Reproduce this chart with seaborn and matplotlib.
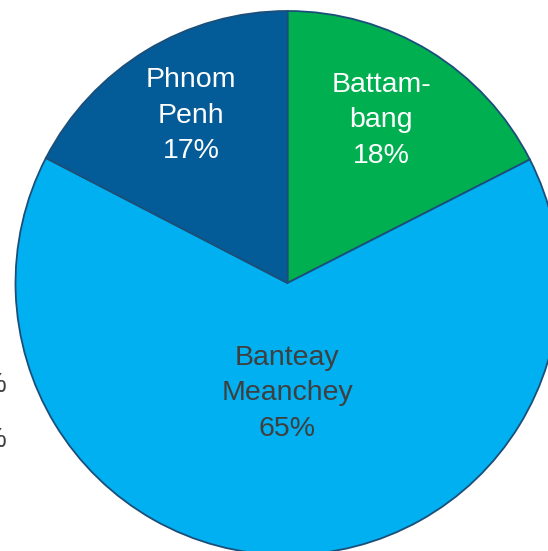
import matplotlib
matplotlib.use("Agg")
import matplotlib.pyplot as plt
import seaborn as sns
import numpy as np

sns.set_style("white")
plt.rcParams['font.family'] = ['Liberation Sans', 'DejaVu Sans']

regions = ["Battam-\nbang", "Banteay\nMeanchey", "Phnom\nPenh"]
shares = [17.5, 65.1, 17.4]
pct_labels = ["18%", "65%", "17%"]
colors = sns.color_palette(["#00B050", "#00B0F0", "#035B98"])
text_colors = ["white", "#3F3F3F", "white"]
label_dist = [0.69, 0.406, 0.71]
label_turn = [1.5, 0.0, -1.3]  # degrees off the wedge middle

fig = plt.figure(figsize=(5.48, 5.51), dpi=100)
ax = fig.add_axes([15.5 / 548, -4 / 551, 544 / 548, 544 / 551])

wedges, _ = ax.pie(shares, colors=colors, startangle=90, counterclock=False,
                   radius=1, wedgeprops=dict(edgecolor="#1B4F7A", linewidth=1.3))
for w in wedges:
    w.set_clip_on(False)

for w, name, pct, tc, d, t in zip(wedges, regions, pct_labels, text_colors,
                                  label_dist, label_turn):
    mid = np.deg2rad((w.theta1 + w.theta2) / 2 + t)
    ax.text(d * np.cos(mid), d * np.sin(mid), f"{name}\n{pct}",
            ha="center", va="center", color=tc, fontsize=20.5,
            linespacing=1.48)

ax.set_xlim(-1, 1)
ax.set_ylim(-1, 1)
ax.set_aspect("equal")
ax.axis("off")

# partly cut-off labels at the left edge
fig.text(0.012, 1 - 385 / 551, "%", ha="right", va="center", color="#3F3F3F", fontsize=20)
fig.text(0.012, 1 - 440 / 551, "%", ha="right", va="center", color="#3F3F3F", fontsize=20)

fig.savefig("out.png", dpi=100)
